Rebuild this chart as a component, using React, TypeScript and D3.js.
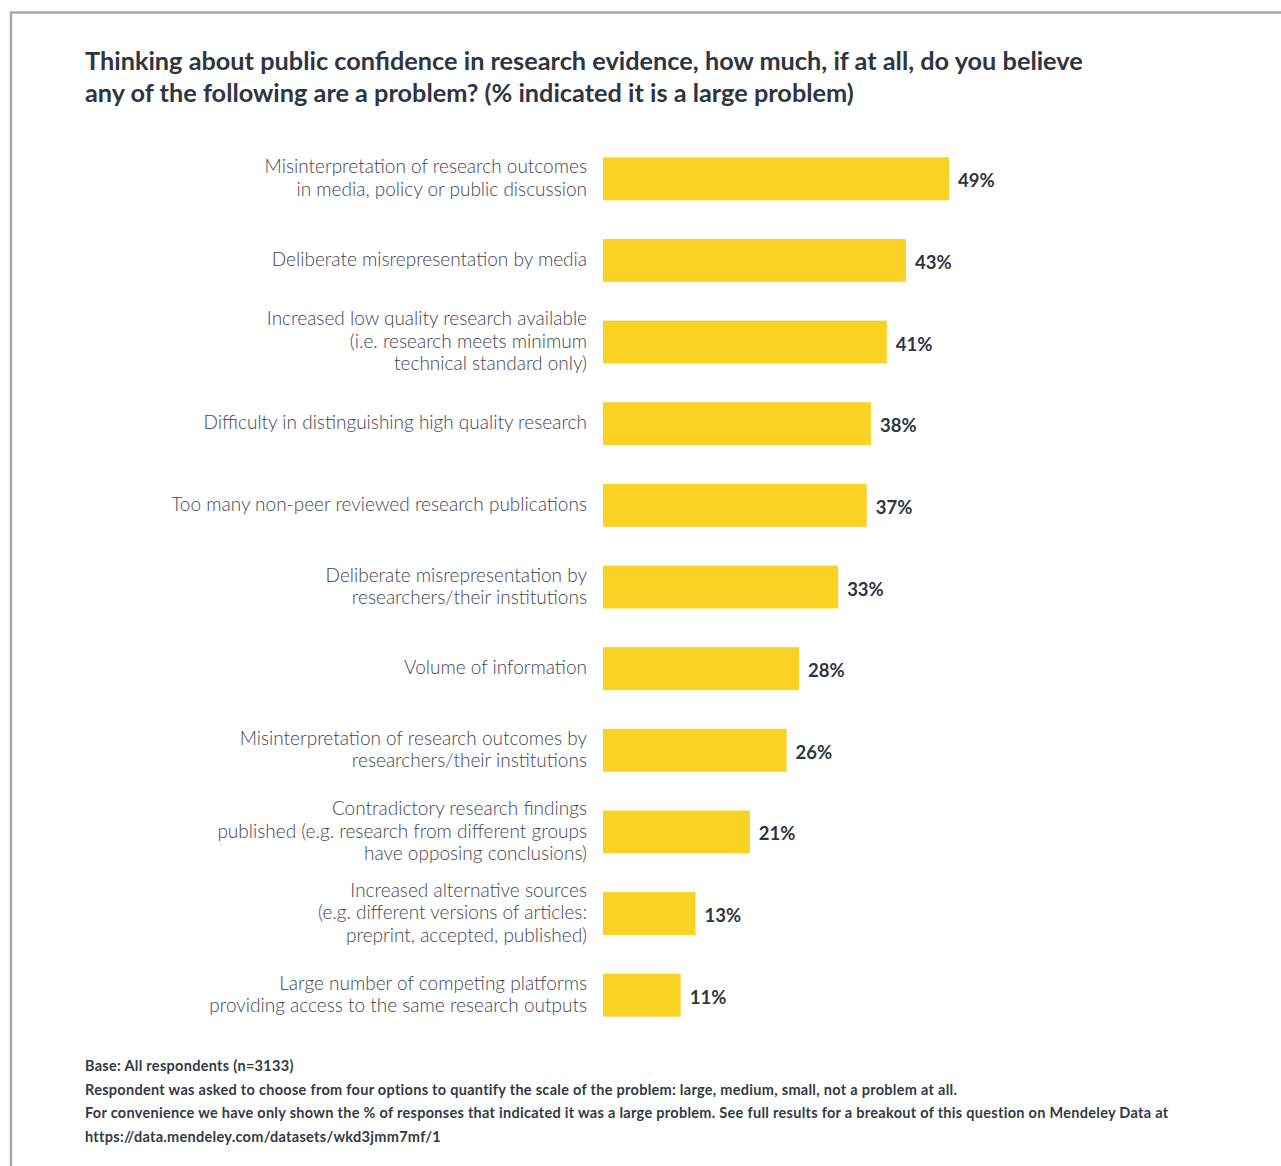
import React from "react";
import * as d3 from "d3";

const categories: string[][] = [
  ["Misinterpretation of research outcomes", "in media, policy or public discussion"],
  ["Deliberate misrepresentation by media"],
  ["Increased low quality research available", "(i.e. research meets minimum", "technical standard only)"],
  ["Difficulty in distinguishing high quality research"],
  ["Too many non-peer reviewed research publications"],
  ["Deliberate misrepresentation by", "researchers/their institutions"],
  ["Volume of information"],
  ["Misinterpretation of research outcomes by", "researchers/their institutions"],
  ["Contradictory research findings", "published (e.g. research from different groups", "have opposing conclusions)"],
  ["Increased alternative sources", "(e.g. different versions of articles:", "preprint, accepted, published)"],
  ["Large number of competing platforms", "providing access to the same research outputs"],
];
// bar lengths
const values: number[] = [49, 42.9, 40.2, 37.95, 37.35, 33.3, 27.76, 26.0, 20.8, 13.1, 11.0];
// printed labels
const valueLabels: string[] = ["49%", "43%", "41%", "38%", "37%", "33%", "28%", "26%", "21%", "13%", "11%"];

const titleLines = [
  "Thinking about public confidence in research evidence, how much, if at all, do you believe",
  "any of the following are a problem? (% indicated it is a large problem)",
];
const footLines = [
  "Base: All respondents (n=3133)",
  "Respondent was asked to choose from four options to quantify the scale of the problem:  large, medium, small, not a problem at all.",
  "For convenience we have only shown the % of responses that indicated it was a large problem. See full results for a breakout of this question on Mendeley Data at",
  "https://data.mendeley.com/datasets/wkd3jmm7mf/1",
];

const W = 1281;
const H = 1166;

export default function App() {
  const x = d3.scaleLinear().domain([0, 49]).range([603, 949]);
  const idx = d3.range(values.length).map(String);
  const y = d3.scaleBand().domain(idx).range([138, 1036]).paddingInner(0.475).paddingOuter(0.237);
  const font = "Lato, 'Open Sans', sans-serif";
  const lh = 22.3;
  return (
    <svg width={W} height={H} style={{ position: "absolute", left: 0, top: 0, background: "#fff" }} fontFamily={font}>
      <line x1={10} y1={12.5} x2={W} y2={12.5} stroke="#a9a9a9" strokeWidth={2.5} />
      <line x1={11} y1={12} x2={11} y2={H} stroke="#a9a9a9" strokeWidth={2.5} />
      {titleLines.map((t, i) => (
        <text key={i} x={85} y={70 + i * 32} fontSize={25.3} fontWeight={700} fill="#2f3542">
          {t}
        </text>
      ))}
      {values.map((v, i) => {
        const yy = y(String(i))!;
        const bw = y.bandwidth();
        const cy = yy + bw / 2;
        const lines = categories[i];
        const start = cy - 1 - ((lines.length - 1) * lh) / 2;
        return (
          <g key={i}>
            <rect x={x(0)} y={yy} width={x(v) - x(0)} height={bw} fill="#f9d223" />
            <text x={x(v) + 9} y={cy + 8.5} fontSize={18.5} fontWeight={700} fill="#2f3542">
              {valueLabels[i]}
            </text>
            {lines.map((l, j) => (
              <text key={j} x={587} y={start + j * lh} dy="0.35em" textAnchor="end" fontSize={19} fontWeight={300} fill="#3f4552">
                {l}
              </text>
            ))}
          </g>
        );
      })}
      {footLines.map((t, i) => (
        <text key={i} x={85} y={1071 + i * 23.7} fontSize={14.5} letterSpacing={0.29} fontWeight={700} fill="#333a44">
          {t}
        </text>
      ))}
    </svg>
  );
}
